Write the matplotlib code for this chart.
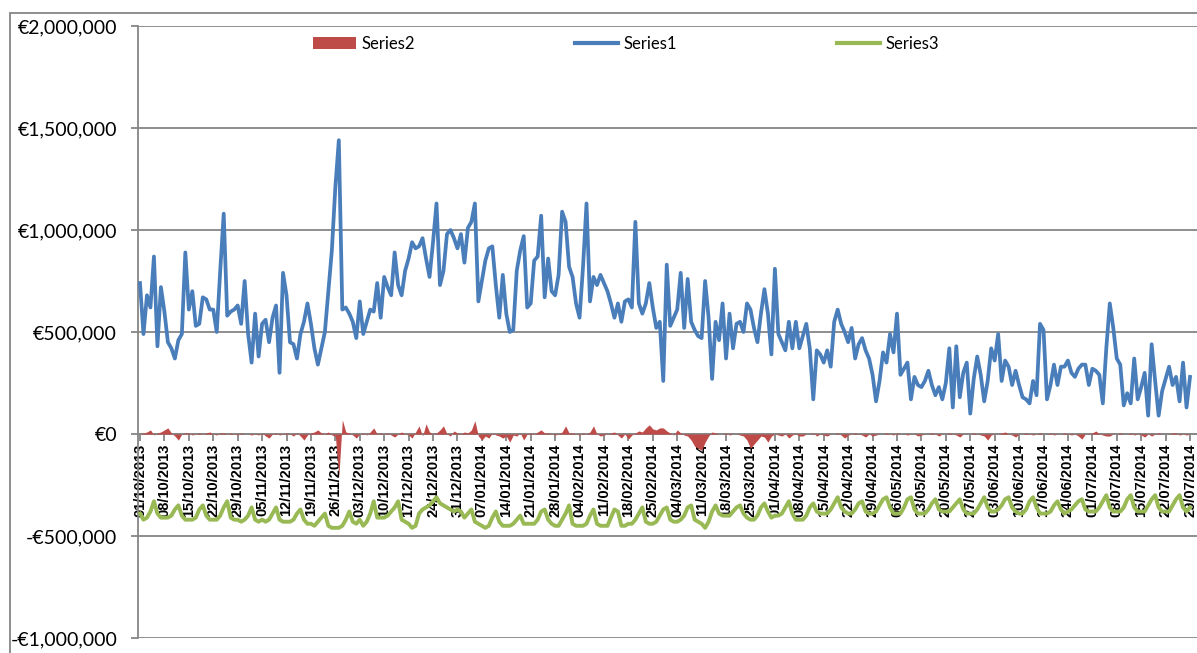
import numpy as np
import pandas as pd
import matplotlib
matplotlib.use("Agg")
import matplotlib.pyplot as plt
from matplotlib.patches import Rectangle, Patch
from matplotlib.lines import Line2D
from matplotlib.ticker import FuncFormatter, MultipleLocator

# daily dates 01/10/2013 .. 29/07/2014
dates = pd.date_range("2013-10-01", "2014-07-29", freq="D")

# values in millions of euro
series1 = [
    0.74, 0.49, 0.68, 0.62, 0.87, 0.43, 0.72, 0.60, 0.45, 0.42,
    0.37, 0.46, 0.49, 0.89, 0.61, 0.70, 0.53, 0.54, 0.67, 0.66,
    0.61, 0.61, 0.50, 0.80, 1.08, 0.58, 0.60, 0.61, 0.63, 0.54,
    0.75, 0.49, 0.35, 0.59, 0.38, 0.54, 0.56, 0.45, 0.57, 0.63,
    0.30, 0.79, 0.68, 0.45, 0.44, 0.37, 0.49, 0.55, 0.64, 0.54,
    0.42, 0.34, 0.42, 0.50, 0.70, 0.90, 1.21, 1.44, 0.61, 0.62,
    0.59, 0.55, 0.47, 0.65, 0.49, 0.55, 0.61, 0.60, 0.74, 0.57,
    0.77, 0.72, 0.68, 0.89, 0.73, 0.68, 0.80, 0.86, 0.94, 0.91,
    0.92, 0.96, 0.86, 0.77, 0.94, 1.13, 0.73, 0.80, 0.98, 1.00,
    0.96, 0.91, 0.98, 0.84, 1.01, 1.04, 1.13, 0.65, 0.75, 0.85,
    0.91, 0.92, 0.73, 0.57, 0.78, 0.59, 0.50, 0.51, 0.80, 0.90,
    0.97, 0.62, 0.64, 0.85, 0.87, 1.07, 0.67, 0.86, 0.70, 0.68,
    0.78, 1.09, 1.04, 0.82, 0.77, 0.64, 0.57, 0.82, 1.13, 0.65,
    0.77, 0.73, 0.78, 0.74, 0.70, 0.64, 0.57, 0.64, 0.55, 0.65,
    0.66, 0.62, 1.04, 0.64, 0.59, 0.64, 0.74, 0.62, 0.52, 0.55,
    0.26, 0.83, 0.53, 0.57, 0.61, 0.79, 0.52, 0.76, 0.55, 0.51,
    0.48, 0.47, 0.75, 0.57, 0.27, 0.55, 0.46, 0.64, 0.37, 0.59,
    0.42, 0.54, 0.55, 0.50, 0.64, 0.61, 0.52, 0.45, 0.59, 0.71,
    0.59, 0.39, 0.81, 0.49, 0.45, 0.41, 0.55, 0.42, 0.55, 0.42,
    0.48, 0.54, 0.42, 0.17, 0.41, 0.39, 0.35, 0.41, 0.33, 0.55,
    0.61, 0.54, 0.50, 0.45, 0.52, 0.37, 0.44, 0.47, 0.41, 0.37,
    0.29, 0.16, 0.26, 0.40, 0.35, 0.49, 0.40, 0.59, 0.29, 0.32,
    0.35, 0.17, 0.28, 0.24, 0.23, 0.26, 0.31, 0.24, 0.19, 0.23,
    0.17, 0.25, 0.42, 0.13, 0.43, 0.18, 0.30, 0.35, 0.10, 0.27,
    0.38, 0.29, 0.16, 0.26, 0.42, 0.36, 0.49, 0.26, 0.36, 0.33,
    0.24, 0.31, 0.24, 0.18, 0.17, 0.15, 0.26, 0.19, 0.54, 0.51,
    0.17, 0.24, 0.34, 0.24, 0.33, 0.33, 0.36, 0.30, 0.28, 0.32,
    0.34, 0.34, 0.24, 0.32, 0.31, 0.29, 0.15, 0.42, 0.64, 0.52,
    0.37, 0.34, 0.14, 0.20, 0.15, 0.37, 0.17, 0.23, 0.30, 0.09,
    0.44, 0.26, 0.09, 0.21, 0.27, 0.33, 0.24, 0.28, 0.16, 0.35,
    0.13, 0.28,
]

series2 = [
    0, 0.005, 0.01, 0.02, -0.005, 0.005, 0.01, 0.02, 0.03, 0.005, -0.01, -0.03, 0, 0.005,
    0.005, -0.005, 0, 0.005, 0, 0.005, 0.01, 0, -0.005, 0.005, 0.005, 0, 0.005, 0,
    -0.005, 0.005, 0, 0, -0.005, 0, -0.005, 0.005, -0.01, -0.02, 0, 0.005, -0.005, 0,
    0.005, 0, -0.01, 0.005, -0.01, -0.03, -0.005, 0.005, 0.01, 0.02, 0.005, 0, 0.01, -0.005,
    -0.01, -0.21, 0.07, 0.01, 0.005, -0.005, -0.02, 0, 0.005, -0.005, 0.01, 0.03, 0, 0.005,
    0, 0.005, -0.005, -0.015, 0, 0.01, 0, -0.005, -0.02, 0.01, 0.04, -0.01, 0.05, 0.01,
    0, 0.005, 0.02, 0.04, 0, -0.01, 0.015, 0.005, 0, 0.01, 0.005, 0.02, 0.065, -0.01,
    -0.03, -0.01, -0.02, 0.005, -0.005, -0.01, -0.02, -0.01, -0.04, -0.005, -0.01, 0.005, -0.03, 0,
    0.005, 0, 0.01, 0.02, 0.005, 0.005, 0, -0.005, 0, 0.01, 0.04, 0.005, 0.005, 0,
    -0.005, 0.005, 0, 0.01, 0.04, 0, -0.01, -0.005, 0, 0.005, 0.01, -0.005, -0.02, 0,
    -0.025, -0.005, 0.005, 0.015, 0.01, 0.03, 0.045, 0.025, 0.02, 0.03, 0.03, 0.015, 0.005, -0.005,
    0.02, 0.005, -0.005, -0.01, -0.03, -0.06, -0.07, -0.08, -0.04, -0.01, 0.01, 0.005, 0, 0,
    0.005, -0.005, 0, 0, -0.005, -0.01, -0.03, -0.07, -0.05, -0.03, -0.01, -0.015, -0.04, -0.01,
    0, -0.005, -0.01, 0, -0.02, -0.005, 0, -0.01, -0.01, 0, 0, 0.005, -0.01, 0,
    -0.005, -0.01, 0, 0, 0.005, -0.005, -0.02, -0.005, 0, 0.005, 0, -0.005, -0.015, 0,
    -0.01, -0.005, 0, 0, 0.005, 0, -0.005, 0.005, 0, 0, -0.005, 0, 0, -0.01,
    -0.005, 0, 0, 0.005, 0, -0.01, 0, 0, 0.005, 0, -0.005, -0.015, 0, 0,
    0, 0.005, 0, -0.005, -0.01, -0.03, -0.005, 0, 0, 0.005, 0.01, 0, -0.005, -0.015,
    0, 0, 0.005, 0, -0.005, 0, 0.005, 0, 0, 0.005, -0.005, 0, 0, 0.005,
    0, -0.005, 0, -0.01, -0.025, 0, 0, 0.005, 0.015, 0, -0.005, -0.01, -0.01, 0,
    0, 0.005, 0, 0, 0.005, -0.005, 0, -0.005, -0.015, 0, -0.01, 0, 0.005, 0,
    0, 0, 0.005, 0.005, -0.005, 0, -0.005, 0,
]

series3 = [
    -0.39, -0.42, -0.41, -0.38, -0.33, -0.39, -0.41,
    -0.41, -0.41, -0.40, -0.37, -0.35, -0.40, -0.42,
    -0.42, -0.42, -0.41, -0.37, -0.35, -0.40, -0.42,
    -0.42, -0.42, -0.40, -0.36, -0.33, -0.41, -0.42,
    -0.42, -0.43, -0.42, -0.40, -0.36, -0.42, -0.43,
    -0.42, -0.43, -0.42, -0.39, -0.36, -0.42, -0.43,
    -0.43, -0.43, -0.42, -0.39, -0.37, -0.42, -0.44,
    -0.44, -0.45, -0.43, -0.41, -0.39, -0.45, -0.46,
    -0.46, -0.46, -0.45, -0.42, -0.38, -0.43, -0.44,
    -0.42, -0.45, -0.43, -0.39, -0.33, -0.41, -0.41,
    -0.41, -0.40, -0.38, -0.36, -0.33, -0.42, -0.43,
    -0.44, -0.46, -0.45, -0.39, -0.37, -0.36, -0.35,
    -0.33, -0.31, -0.34, -0.35, -0.36, -0.37, -0.38,
    -0.37, -0.38, -0.41, -0.39, -0.37, -0.43, -0.44,
    -0.45, -0.46, -0.45, -0.41, -0.38, -0.43, -0.45,
    -0.45, -0.45, -0.44, -0.42, -0.40, -0.44, -0.44,
    -0.44, -0.44, -0.42, -0.38, -0.37, -0.42, -0.44,
    -0.45, -0.45, -0.42, -0.39, -0.35, -0.44, -0.45,
    -0.45, -0.45, -0.44, -0.40, -0.37, -0.44, -0.45,
    -0.45, -0.45, -0.41, -0.37, -0.38, -0.45, -0.45,
    -0.44, -0.44, -0.42, -0.39, -0.36, -0.43, -0.44,
    -0.44, -0.43, -0.40, -0.37, -0.36, -0.42, -0.43,
    -0.43, -0.42, -0.40, -0.36, -0.35, -0.42, -0.43,
    -0.44, -0.46, -0.43, -0.38, -0.35, -0.39, -0.40,
    -0.40, -0.40, -0.38, -0.36, -0.35, -0.39, -0.41,
    -0.42, -0.42, -0.40, -0.36, -0.34, -0.38, -0.41,
    -0.40, -0.40, -0.39, -0.36, -0.33, -0.39, -0.42,
    -0.42, -0.42, -0.40, -0.36, -0.34, -0.38, -0.39,
    -0.39, -0.39, -0.37, -0.34, -0.31, -0.36, -0.38,
    -0.39, -0.39, -0.37, -0.34, -0.33, -0.38, -0.39,
    -0.39, -0.38, -0.35, -0.32, -0.31, -0.36, -0.39,
    -0.39, -0.39, -0.36, -0.32, -0.31, -0.37, -0.39,
    -0.39, -0.39, -0.37, -0.34, -0.32, -0.37, -0.38,
    -0.38, -0.38, -0.36, -0.34, -0.32, -0.37, -0.39,
    -0.39, -0.39, -0.37, -0.34, -0.31, -0.36, -0.38,
    -0.38, -0.37, -0.35, -0.32, -0.31, -0.36, -0.38,
    -0.39, -0.39, -0.37, -0.33, -0.31, -0.36, -0.39,
    -0.39, -0.39, -0.38, -0.35, -0.33, -0.37, -0.39,
    -0.38, -0.37, -0.35, -0.33, -0.32, -0.37, -0.38,
    -0.38, -0.38, -0.36, -0.33, -0.30, -0.36, -0.38,
    -0.38, -0.38, -0.36, -0.32, -0.30, -0.36, -0.38,
    -0.38, -0.38, -0.35, -0.32, -0.30, -0.36, -0.38,
    -0.38, -0.38, -0.35, -0.32, -0.30, -0.36, -0.38,
    -0.36,
]

assert len(series1) == len(dates), len(series1)
assert len(series2) == len(dates), len(series2)
assert len(series3) == len(dates), len(series3)

x = np.arange(len(dates))
s1 = np.array(series1) * 1e6
s2 = np.array(series2) * 1e6
s3 = np.array(series3) * 1e6

blue = "#4A7EBB"
red = "#BE4B48"
green = "#98B954"
gray = "#868686"

W, H = 1197, 653
fig = plt.figure(figsize=(W / 100, H / 100), dpi=100)

# outer chart frame
fig.patches.append(Rectangle((10 / W, -0.1), 1.2, 1.1 - 13 / H, transform=fig.transFigure,
                             fill=False, edgecolor=gray, lw=1.3))

ax = fig.add_axes([138 / W, 1 - 638 / H, (W - 138) / W, 612 / H])

ax.fill_between(x, 0, s2, color=red, lw=0, zorder=3)
ax.plot(x, s1, color=blue, lw=2.7, solid_joinstyle="round", zorder=4)
ax.plot(x, s3, color=green, lw=2.8, solid_joinstyle="round", zorder=4)

ax.set_xlim(-0.57, 303)
ax.set_ylim(-1000000, 2000000)
ax.yaxis.set_major_locator(MultipleLocator(500000))


def euro(v, pos):
    if v < 0:
        return "-€{:,.0f}".format(-v)
    return "€{:,.0f}".format(v)


ax.yaxis.set_major_formatter(FuncFormatter(euro))
ax.grid(axis="y", color=gray, lw=1.3)
ax.set_axisbelow(True)

for side in ["top", "right"]:
    ax.spines[side].set_visible(False)
ax.spines["left"].set_color(gray)
ax.spines["left"].set_linewidth(1.3)
ax.spines["bottom"].set_position(("data", 0))
ax.spines["bottom"].set_color(gray)
ax.spines["bottom"].set_linewidth(1.3)

ax.tick_params(axis="y", direction="out", length=5, width=1.3, color=gray, pad=10,
               labelsize=14)
for t in ax.get_yticklabels():
    t.set_fontfamily("Lato")

tick_pos = x[::7]
tick_lab = dates[::7].strftime("%d/%m/%Y")
ax.set_xticks(tick_pos)
ax.set_xticklabels(tick_lab, rotation=90, fontweight="bold", fontsize=10.5,
                   fontfamily="Liberation Sans")
ax.tick_params(axis="x", direction="out", length=5, width=1.3, color=gray, pad=2)

handles = [Patch(facecolor=red, edgecolor="none"),
           Line2D([], [], color=blue, lw=3),
           Line2D([], [], color=green, lw=3)]
fig.legend(handles, ["Series2", "Series1", "Series3"], loc="center left",
           bbox_to_anchor=(298 / W, 1 - 44 / H), ncol=3, frameon=False,
           prop={"family": "Lato", "size": 12}, handlelength=2.6, handletextpad=0.3,
           columnspacing=9.6)

fig.savefig("out.png", dpi=100)
